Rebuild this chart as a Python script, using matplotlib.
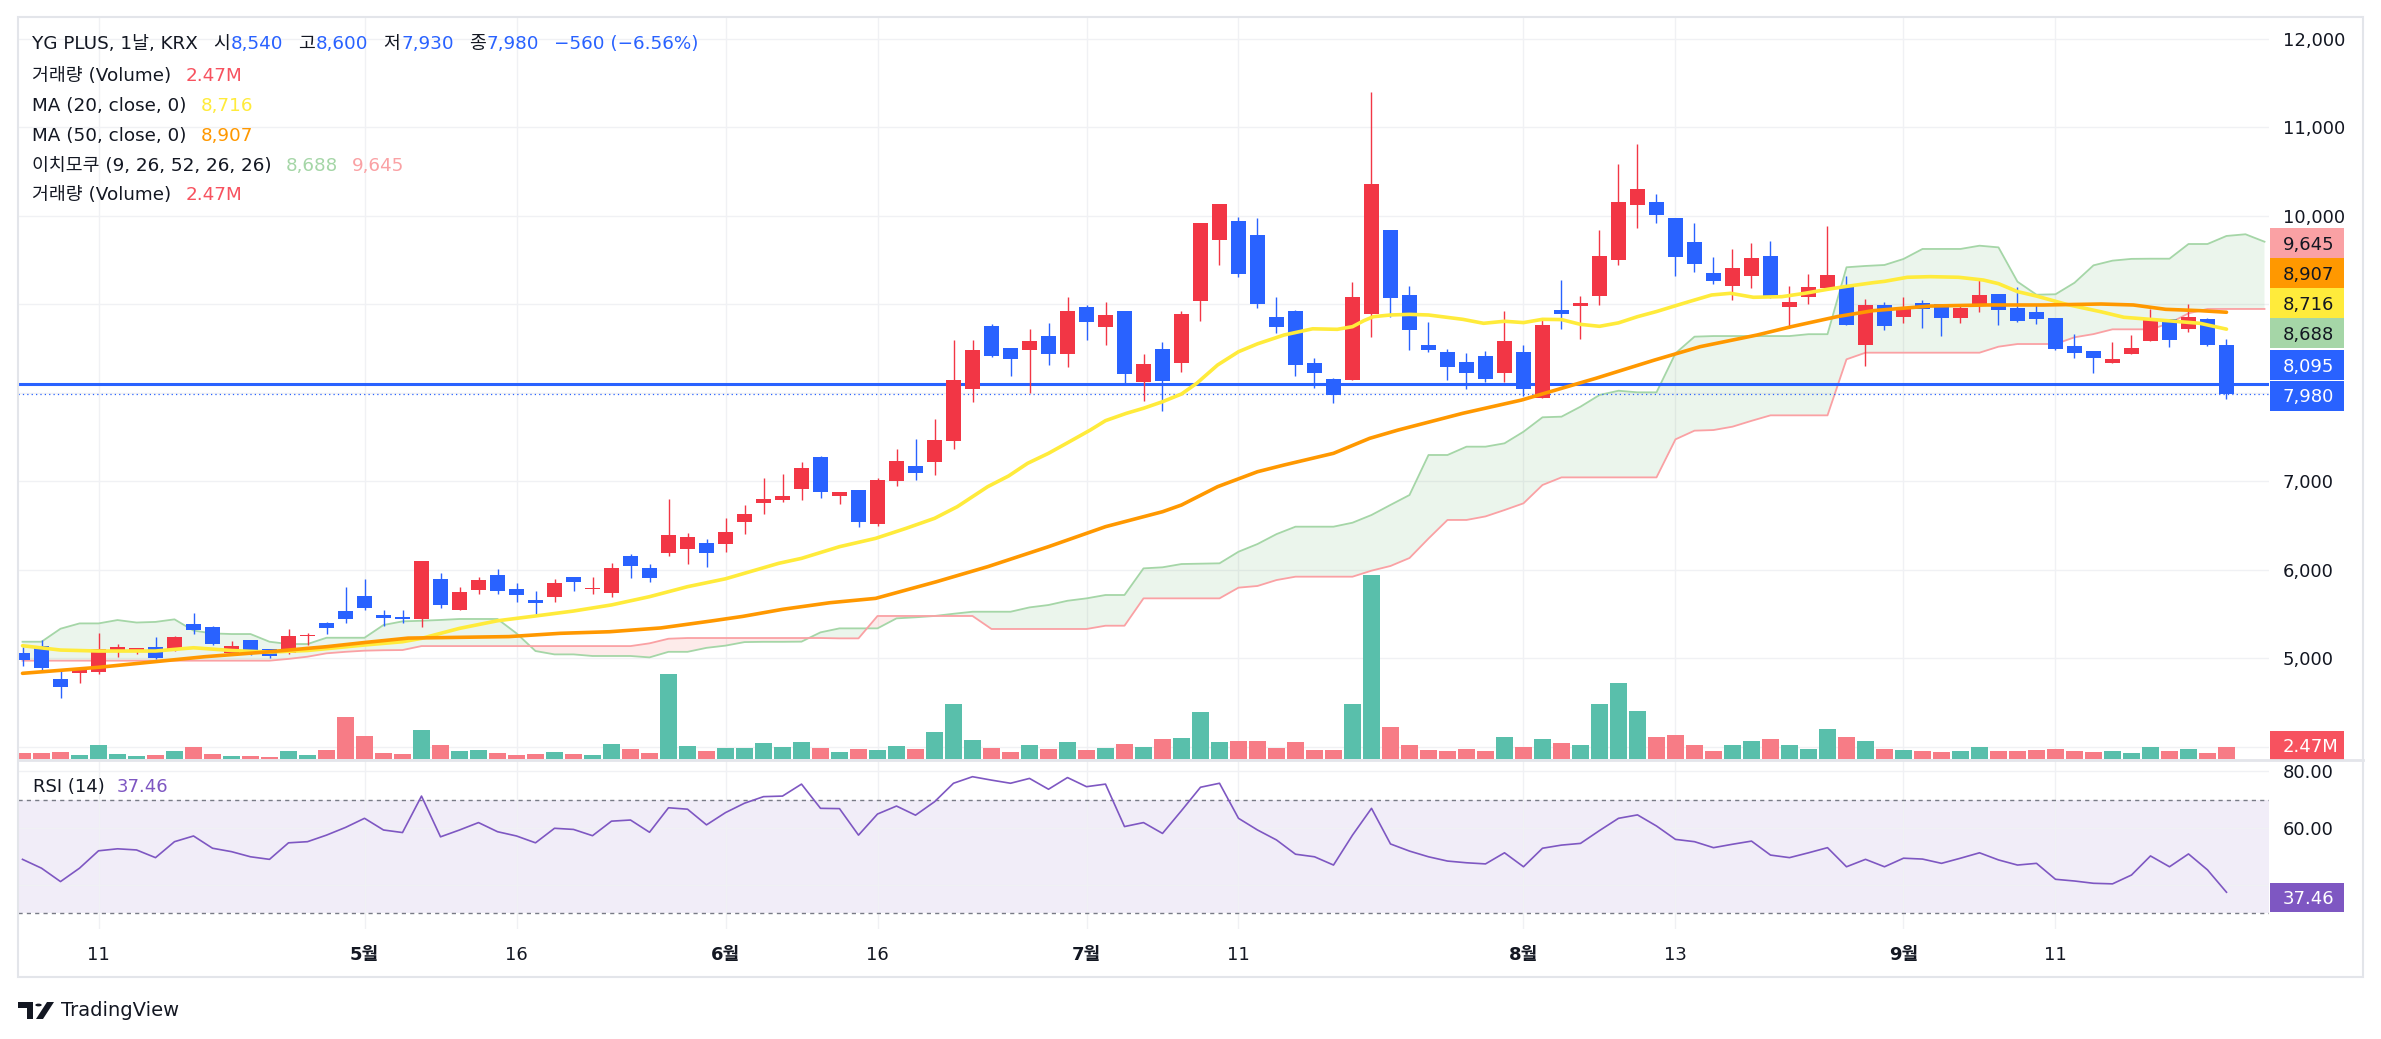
import numpy as np
import pandas as pd
import matplotlib
matplotlib.use("Agg")
import matplotlib.pyplot as plt
from matplotlib.patches import Rectangle, Polygon, Circle
from matplotlib.lines import Line2D
from matplotlib.ticker import FuncFormatter

FAM = ['DejaVu Sans', 'Noto Sans CJK KR']
plt.rcParams['font.family'] = FAM

# ---- data -------------------------------------------------------------
holidays = ['2025-05-01', '2025-05-05', '2025-05-06', '2025-06-03', '2025-06-06', '2025-08-15']
days = pd.bdate_range('2025-04-07', '2025-09-24')
days = days[~days.isin(pd.to_datetime(holidays))]

opens = [5056, 5135, 4763, 4834, 4842, 5090, 5071, 5124, 5090, 5384,
         5350, 5060, 5203, 5102, 5060, 5248, 5395, 5531, 5700, 5486,
         5463, 5441, 5893, 5542, 5768, 5938, 5780, 5655, 5689, 5915,
         5780, 5734, 6153, 6017, 6186, 6232, 6299, 6288, 6537, 6751,
         6785, 6910, 7271, 6831, 6898, 6514, 7000, 7170, 7218, 7455,
         8043, 8752, 8503, 8480, 8639, 8435, 8966, 8740, 8921, 8119,
         8492, 8333, 9034, 9723, 9938, 9780, 8853, 8921, 8333, 8153,
         8145, 8890, 9836, 9102, 8537, 8458, 8345, 8413, 8224, 8458,
         7941, 8932, 8981, 9094, 9501, 10122, 10153, 9972, 9701, 9350,
         9204, 9317, 9543, 8966, 9079, 9181, 9192, 8540, 8989, 8857,
         9011, 9000, 8845, 8981, 9113, 8955, 8910, 8842, 8526, 8469,
         8337, 8438, 8585, 8831, 8721, 8831, 8540]
highs = [5128, 5203, 4864, 4879, 5282, 5158, 5115, 5237, 5248, 5508,
         5361, 5192, 5205, 5105, 5328, 5282, 5407, 5802, 5893, 5542,
         5542, 6100, 5960, 5802, 5915, 6006, 5847, 5757, 5893, 5918,
         5915, 6074, 6175, 6062, 6797, 6412, 6345, 6582, 6729, 7034,
         7079, 7215, 7282, 6880, 6900, 7034, 7362, 7475, 7701, 8593,
         8593, 8774, 8505, 8718, 8785, 9079, 8989, 9023, 8925, 8435,
         8571, 8921, 9920, 10135, 9983, 9972, 9079, 8932, 8390, 8160,
         9249, 11396, 9840, 9204, 8797, 8492, 8446, 8469, 8921, 8537,
         8842, 9271, 9090, 9836, 10582, 10808, 10243, 9975, 9915, 9531,
         9622, 9689, 9712, 9204, 9339, 9882, 9317, 9057, 9023, 9079,
         9045, 9005, 9000, 9286, 9118, 9192, 8989, 8845, 8661, 8472,
         8571, 8650, 8944, 8835, 9000, 8842, 8600]
lows = [4910, 4857, 4552, 4721, 4819, 5011, 5045, 4992, 5082, 5275,
        5147, 5058, 5034, 5000, 5049, 5147, 5275, 5399, 5545, 5365,
        5399, 5354, 5568, 5540, 5723, 5723, 5633, 5497, 5633, 5757,
        5723, 5689, 5904, 5859, 6153, 6062, 6028, 6198, 6401, 6627,
        6763, 6785, 6808, 6740, 6484, 6491, 6947, 7011, 7068, 7365,
        7896, 8401, 8187, 7994, 8311, 8288, 8593, 8537, 8104, 7904,
        7791, 8232, 8808, 9441, 9308, 8958, 8676, 8190, 8054, 7885,
        8140, 8631, 8857, 8484, 8461, 8145, 8043, 8122, 8122, 7964,
        7935, 8721, 8608, 8992, 9444, 9862, 9919, 9320, 9365, 9229,
        9049, 9181, 9068, 8729, 9000, 9175, 8760, 8303, 8710, 8789,
        8732, 8642, 8789, 8913, 8766, 8800, 8777, 8480, 8393, 8224,
        8335, 8435, 8580, 8518, 8687, 8525, 7930]
closes = [4977, 4887, 4676, 4864, 5102, 5124, 5113, 5003, 5237, 5320,
          5161, 5135, 5071, 5026, 5248, 5260, 5342, 5444, 5568, 5455,
          5441, 6096, 5599, 5746, 5881, 5757, 5712, 5622, 5847, 5859,
          5791, 6017, 6040, 5904, 6390, 6367, 6186, 6424, 6627, 6797,
          6831, 7147, 6876, 6876, 6537, 7011, 7226, 7094, 7463, 8141,
          8480, 8413, 8379, 8582, 8435, 8921, 8797, 8876, 8209, 8322,
          8130, 8887, 9915, 10130, 9342, 9003, 8744, 8314, 8224, 7975,
          9079, 10356, 9068, 8710, 8484, 8292, 8224, 8156, 8582, 8043,
          8763, 8890, 9011, 9543, 10153, 10300, 10009, 9535, 9456, 9263,
          9407, 9520, 9079, 9023, 9192, 9328, 8766, 8989, 8755, 8958,
          8947, 8845, 8955, 9102, 8936, 8811, 8834, 8492, 8450, 8393,
          8379, 8503, 8831, 8597, 8853, 8540, 7980]
# volume in millions of shares
volume_m = [1.24, 1.24, 1.44, 0.82, 2.88, 1.03, 0.62, 0.82, 1.65, 2.47,
            1.03, 0.62, 0.62, 0.41, 1.65, 0.82, 1.85, 8.65, 4.74, 1.24,
            1.03, 5.97, 2.88, 1.65, 1.85, 1.24, 0.82, 1.03, 1.44, 1.03,
            0.82, 3.09, 2.06, 1.24, 17.51, 2.68, 1.65, 2.27, 2.27, 3.30,
            2.47, 3.50, 2.27, 1.44, 2.06, 1.85, 2.68, 2.06, 5.56, 11.33,
            3.91, 2.27, 1.44, 2.88, 2.06, 3.50, 1.85, 2.27, 3.09, 2.47,
            4.12, 4.33, 9.68, 3.50, 3.71, 3.71, 2.27, 3.50, 1.85, 1.85,
            11.33, 37.90, 6.59, 2.88, 1.85, 1.65, 2.06, 1.65, 4.53, 2.47,
            4.12, 3.30, 2.88, 11.33, 15.66, 9.89, 4.53, 4.94, 2.88, 1.65,
            2.88, 3.71, 4.12, 2.88, 2.06, 6.18, 4.53, 3.71, 2.06, 1.85,
            1.65, 1.44, 1.65, 2.47, 1.65, 1.65, 1.85, 2.06, 1.65, 1.44,
            1.65, 1.24, 2.47, 1.65, 2.06, 1.24, 2.47]
rsi = [49.0, 45.9, 41.2, 45.9, 52.0, 52.7, 52.3, 49.6, 55.2, 57.2,
       52.9, 51.7, 49.9, 49.0, 54.8, 55.2, 57.5, 60.2, 63.4, 59.3,
       58.4, 71.2, 56.9, 59.3, 61.9, 58.7, 57.2, 54.8, 59.9, 59.5,
       57.3, 62.4, 62.8, 58.5, 67.1, 66.6, 61.1, 65.4, 68.7, 71.0,
       71.2, 75.4, 66.9, 66.8, 57.5, 64.9, 67.7, 64.5, 69.2, 75.7,
       78.0, 76.8, 75.7, 77.4, 73.6, 77.7, 74.5, 75.4, 60.5, 61.9,
       58.1, 66.1, 74.3, 75.7, 63.4, 59.3, 55.8, 50.8, 49.9, 47.0,
       57.5, 66.9, 54.4, 51.9, 49.9, 48.4, 47.8, 47.4, 51.3, 46.4,
       52.9, 54.0, 54.6, 59.1, 63.4, 64.6, 60.7, 56.0, 55.2, 53.1,
       54.3, 55.4, 50.5, 49.6, 51.3, 53.1, 46.4, 49.0, 46.4, 49.4,
       49.1, 47.6, 49.4, 51.3, 48.8, 47.0, 47.6, 42.0, 41.4, 40.6,
       40.4, 43.5, 50.2, 46.4, 50.9, 45.3, 37.46]

# moving averages read at bar positions
ma20_x = [0, 2, 4, 7, 9, 11, 13, 15, 18, 20, 21, 23, 25, 27, 29, 31, 33, 35, 37,
          39.8, 41, 43, 44.9, 46.5, 48, 49.2, 50.8, 51.9, 52.9, 54, 55.1, 56.2, 57,
          58.1, 59, 60, 61, 61.8, 62.9, 64, 65, 66.4, 67.9, 69.2, 70, 70.6, 71.1, 72,
          73, 74, 75.8, 76.9, 78, 79, 80, 81, 82, 83, 84, 85, 86, 87.7, 88.9, 89.9,
          91.1, 92.6, 93.8, 95, 95.9, 97.4, 98, 99.2, 100.4, 101.9, 103.2, 104, 105,
          106, 107.6, 109.4, 110.6, 112.4, 114.6, 116]
ma20 = [5139, 5090, 5079, 5079, 5116, 5085, 5067, 5085, 5147, 5184, 5222, 5335, 5421,
        5475, 5531, 5600, 5693, 5806, 5895, 6070, 6126, 6258, 6352, 6465, 6578, 6710,
        6936, 7057, 7200, 7313, 7444, 7576, 7682, 7765, 7822, 7896, 7983, 8104, 8311,
        8461, 8550, 8650, 8720, 8714, 8744, 8812, 8857, 8876, 8883, 8876, 8827, 8782,
        8805, 8790, 8827, 8824, 8770, 8748, 8787, 8857, 8915, 9026, 9102, 9121, 9076,
        9083, 9121, 9166, 9196, 9241, 9256, 9302, 9309, 9302, 9271, 9230, 9140, 9090,
        8995, 8912, 8850, 8820, 8782, 8716]
ma50_x = [0, 4, 7, 9.6, 13, 16, 18, 20.3, 25.6, 28.3, 30.9, 33.6, 36.3, 37.9, 40,
          42.5, 44.9, 48.1, 50.8, 54, 57, 60, 61, 62.9, 65, 66.4, 69, 70.9, 72.4,
          75.8, 78.9, 81, 82.8, 85.9, 88.3, 91.3, 93.1, 95.5, 97.4, 100.4, 103.4,
          106.4, 109.4, 111.1, 112.8, 114.6, 116]
ma50 = [4827, 4895, 4959, 5015, 5071, 5128, 5175, 5225, 5242, 5279, 5297, 5340, 5420,
        5470, 5550, 5625, 5674, 5862, 6032, 6258, 6484, 6653, 6729, 6936, 7105, 7181,
        7313, 7482, 7576, 7765, 7915, 8047, 8160, 8367, 8518, 8650, 8744, 8857, 8925,
        8977, 8989, 8989, 9000, 8989, 8940, 8925, 8907]

# ichimoku leading spans (already shifted), one value per bar incl. 2 future bars
span_a = [5184, 5184, 5331, 5391, 5391, 5429, 5401, 5408, 5437, 5310,
          5278, 5271, 5271, 5184, 5158, 5158, 5229, 5229, 5229, 5373,
          5414, 5421, 5430, 5441, 5441, 5441, 5279, 5079, 5041, 5041,
          5023, 5023, 5023, 5007, 5070, 5070, 5115, 5140, 5180, 5183,
          5183, 5185, 5290, 5335, 5335, 5335, 5448, 5460, 5475, 5500,
          5523, 5523, 5523, 5572, 5599, 5647, 5674, 5712, 5712, 6013,
          6025, 6062, 6066, 6070, 6201, 6288, 6400, 6484, 6484, 6484,
          6529, 6616, 6730, 6842, 7294, 7294, 7388, 7388, 7426, 7557,
          7720, 7727, 7840, 7972, 8020, 8002, 8002, 8443, 8631, 8638,
          8638, 8638, 8638, 8638, 8659, 8659, 9415, 9430, 9441, 9509,
          9622, 9622, 9622, 9659, 9640, 9252, 9105, 9110, 9240, 9437,
          9490, 9510, 9512, 9512, 9678, 9678, 9769, 9788, 9704]
span_b = [4970, 4970, 4970, 4970, 4970, 4970, 4970, 4970, 4970, 4970,
          4970, 4970, 4970, 4970, 4990, 5015, 5053, 5070, 5083, 5088,
          5090, 5135, 5135, 5135, 5135, 5135, 5135, 5135, 5135, 5135,
          5135, 5135, 5135, 5166, 5218, 5226, 5226, 5226, 5226, 5226,
          5226, 5226, 5226, 5222, 5222, 5475, 5475, 5475, 5475, 5475,
          5475, 5328, 5328, 5328, 5328, 5328, 5328, 5365, 5365, 5674,
          5674, 5674, 5674, 5674, 5795, 5814, 5881, 5919, 5919, 5919,
          5919, 5987, 6040, 6130, 6350, 6560, 6560, 6600, 6672, 6748,
          6955, 7041, 7041, 7041, 7041, 7041, 7041, 7471, 7569, 7576,
          7614, 7680, 7742, 7742, 7742, 7742, 8375, 8450, 8450, 8450,
          8450, 8450, 8450, 8450, 8518, 8548, 8548, 8548, 8624, 8660,
          8714, 8714, 8714, 8782, 8895, 8944, 8944, 8944, 8944]

tick_dates = ['2025-04-11', '2025-05-02', '2025-05-16', '2025-06-02', '2025-06-16',
              '2025-07-01', '2025-07-11', '2025-08-01', '2025-08-13', '2025-09-01',
              '2025-09-11']
tick_labels = ['11', '5월', '16', '6월', '16', '7월', '11', '8월', '13', '9월', '11']

last_line = 8095

# ---- style -------------------------------------------------------------
RED = '#f23645'
BLUE = '#2962ff'
VOL_UP = '#59bfab'
VOL_DN = '#f77c86'
YELLOW = '#ffeb3b'
ORANGE = '#ff9800'
SPAN_A = '#a5d6a7'
SPAN_B = '#faa1a4'
PURPLE = '#7e57c2'
GRID = '#f0f1f4'
TXT = '#131722'

W, H = 2381, 1039
fig = plt.figure(figsize=(W / 100, H / 100), dpi=100)


def rect(x0, y0, x1, y1):
    return [x0 / W, 1 - y1 / H, (x1 - x0) / W, (y1 - y0) / H]


main_rect = rect(18, 17, 2269, 759)
ax_grid = fig.add_axes(main_rect)
ax_vol = fig.add_axes(main_rect)
ax = fig.add_axes(main_rect)
ax_rsi = fig.add_axes(rect(18, 761, 2269, 929))

o = np.array(opens, float)
h = np.array(highs, float)
l = np.array(lows, float)
c = np.array(closes, float)
n = len(c)
x = np.arange(n)
tick_idx = [days.get_loc(pd.Timestamp(d)) for d in tick_dates]
xlim = (-0.237, 118.237)
ylim = (3859, 12243)

for a in (ax_grid, ax_vol, ax, ax_rsi):
    a.set_xlim(*xlim)
    for s in a.spines.values():
        s.set_visible(False)
for a in (ax_vol, ax):
    a.patch.set_alpha(0)
    a.set_xticks([])
    a.set_yticks([])

# grid + price scale
ax_grid.set_ylim(*ylim)
ax_grid.set_xticks(tick_idx)
ax_grid.tick_params(axis='x', length=0, labelbottom=False)
ax_grid.set_yticks(range(4000, 12001, 1000))
ax_grid.yaxis.tick_right()
ax_grid.yaxis.set_major_formatter(FuncFormatter(
    lambda v, p: '' if int(v) in (4000, 8000, 9000) else f'{int(v):,}'))
ax_grid.tick_params(axis='y', length=0, pad=10, labelsize=13, labelcolor=TXT)
ax_grid.grid(True, color=GRID, lw=1)

# volume
ax_vol.set_ylim(0, 152.9)
vcol = [VOL_UP if c[i] >= o[i] else VOL_DN for i in range(n)]
ax_vol.bar(x, volume_m, width=0.92, color=vcol, linewidth=0)

# ichimoku cloud
ax.set_ylim(*ylim)
xs = np.arange(len(span_a))
sa = np.array(span_a, float)
sb = np.array(span_b, float)
ax.fill_between(xs, sa, sb, where=sa >= sb, interpolate=True, color='#43a047', alpha=0.1, lw=0, zorder=1)
ax.fill_between(xs, sa, sb, where=sa < sb, interpolate=True, color='#f44336', alpha=0.1, lw=0, zorder=1)
ax.plot(xs, sa, color=SPAN_A, lw=1.3, zorder=2)
ax.plot(xs, sb, color=SPAN_B, lw=1.3, zorder=2)

# price lines
ax.axhline(last_line, color=BLUE, lw=2.2, zorder=3)
ax.axhline(c[-1], color=BLUE, lw=0.9, ls=(0, (1, 2.5)), zorder=3)

# candles
col = np.where(c >= o, RED, BLUE)
ax.vlines(x, l, h, color=col, lw=1.0, zorder=4)
body_lo = np.minimum(o, c)
body_h = np.maximum(np.abs(c - o), 15)
ax.bar(x, body_h, bottom=body_lo, width=0.78, color=col, linewidth=0, zorder=5)

# moving averages
ax.plot(ma20_x, ma20, color=YELLOW, lw=2.6, zorder=6, solid_capstyle='round')
ax.plot(ma50_x, ma50, color=ORANGE, lw=2.6, zorder=6, solid_capstyle='round')

# RSI pane
ax_rsi.set_ylim(24.56, 83.51)
ax_rsi.axhspan(30, 70, color=PURPLE, alpha=0.1, lw=0, zorder=0)
ax_rsi.axhline(70, color='#787b86', lw=1, ls=(0, (3, 3)), zorder=1)
ax_rsi.axhline(30, color='#787b86', lw=1, ls=(0, (3, 3)), zorder=1)
ax_rsi.plot(x, rsi, color=PURPLE, lw=1.2, zorder=3)
ax_rsi.set_yticks([40, 60, 80])
ax_rsi.yaxis.tick_right()
ax_rsi.yaxis.set_major_formatter(FuncFormatter(lambda v, p: '' if v < 50 else f'{v:.2f}'))
ax_rsi.tick_params(axis='y', length=0, pad=10, labelsize=13, labelcolor=TXT)
ax_rsi.set_xticks(tick_idx)
ax_rsi.set_xticklabels(tick_labels)
ax_rsi.tick_params(axis='x', length=0, pad=12.5, labelsize=13, labelcolor=TXT)
for lab in ax_rsi.get_xticklabels():
    if '월' in lab.get_text():
        lab.set_fontweight('bold')
ax_rsi.grid(True, color=GRID, lw=1, zorder=0)
ax_rsi.set_axisbelow(True)

# frame and pane separator
fig.add_artist(Rectangle((18 / W, 1 - 977 / H), (2363 - 18) / W, (977 - 17) / H,
                         transform=fig.transFigure, fill=False, edgecolor='#e3e5ea', lw=1.5))
fig.add_artist(Line2D([18 / W, 2363 / W], [1 - 760 / H] * 2, color='#e3e5ea', lw=2))


def price_tag(y0, y1, face, txt, tcolor):
    fig.add_artist(Rectangle((2270 / W, 1 - y1 / H), 74 / W, (y1 - y0) / H,
                             transform=fig.transFigure, facecolor=face, edgecolor='none'))
    fig.text(2283 / W, 1 - ((y0 + y1) / 2 + 1.5) / H, txt, color=tcolor, fontsize=13,
             va='center', ha='left')


price_tag(228, 258, SPAN_B, '9,645', TXT)
price_tag(258, 288, ORANGE, '8,907', TXT)
price_tag(288, 318, YELLOW, '8,716', TXT)
price_tag(318, 348, SPAN_A, '8,688', TXT)
price_tag(350, 380, BLUE, f'{last_line:,}', 'white')
price_tag(381, 411, BLUE, f'{int(c[-1]):,}', 'white')
price_tag(731, 761, '#f7525f', f'{volume_m[-1]:.2f}M', 'white')
price_tag(883, 912, PURPLE, f'{rsi[-1]:.2f}', 'white')

# legend lines
renderer = fig.canvas.get_renderer()


def seg_line(x0, y, parts, size=13.2):
    xx = x0
    for s, colr, gap in parts:
        t = fig.text(xx / W, 1 - y / H, s, color=colr, fontsize=size, va='center', ha='left')
        bb = t.get_window_extent(renderer=renderer)
        xx += bb.width + gap


chg = c[-1] - c[-2]
pct = chg / c[-2] * 100
seg_line(32, 44, [('YG PLUS, 1날, KRX', TXT, 15), ('시', TXT, 1), (f'{int(o[-1]):,}', BLUE, 15),
                  ('고', TXT, 1), (f'{int(h[-1]):,}', BLUE, 15), ('저', TXT, 1),
                  (f'{int(l[-1]):,}', BLUE, 15), ('종', TXT, 1), (f'{int(c[-1]):,}', BLUE, 15),
                  (f'\u2212{abs(int(chg))} (\u2212{abs(pct):.2f}%)', BLUE, 0)])
seg_line(32, 76, [('거래량 (Volume)', TXT, 14), (f'{volume_m[-1]:.2f}M', '#f7525f', 0)])
seg_line(32, 106, [('MA (20, close, 0)', TXT, 14), ('8,716', YELLOW, 0)])
seg_line(32, 136, [('MA (50, close, 0)', TXT, 14), ('8,907', ORANGE, 0)])
seg_line(32, 166, [('이치모쿠 (9, 26, 52, 26, 26)', TXT, 14), ('8,688', SPAN_A, 14), ('9,645', SPAN_B, 0)])
seg_line(32, 195, [('거래량 (Volume)', TXT, 14), (f'{volume_m[-1]:.2f}M', '#f7525f', 0)])
seg_line(33, 787, [('RSI (14)', TXT, 12), (f'{rsi[-1]:.2f}', PURPLE, 0)], size=13)

# TradingView logo
def fpoly(pts, **kw):
    fig.add_artist(Polygon([(px / W, 1 - py / H) for px, py in pts], closed=True,
                           transform=fig.transFigure, **kw))


fpoly([(18, 1002), (33, 1002), (33, 1019), (27, 1019), (27, 1008), (18, 1008)], facecolor=TXT, edgecolor='none')
fig.add_artist(Circle((38.5 / W, 1 - 1005 / H), 3.2 / W, transform=fig.transFigure, facecolor=TXT, edgecolor='none'))
fpoly([(36, 1019), (43, 1019), (54, 1002), (47, 1002)], facecolor=TXT, edgecolor='none')
fig.text(61 / W, 1 - 1011 / H, 'TradingView', color=TXT, fontsize=14, va='center', ha='left')

fig.savefig('out.png', dpi=100, facecolor='white')
